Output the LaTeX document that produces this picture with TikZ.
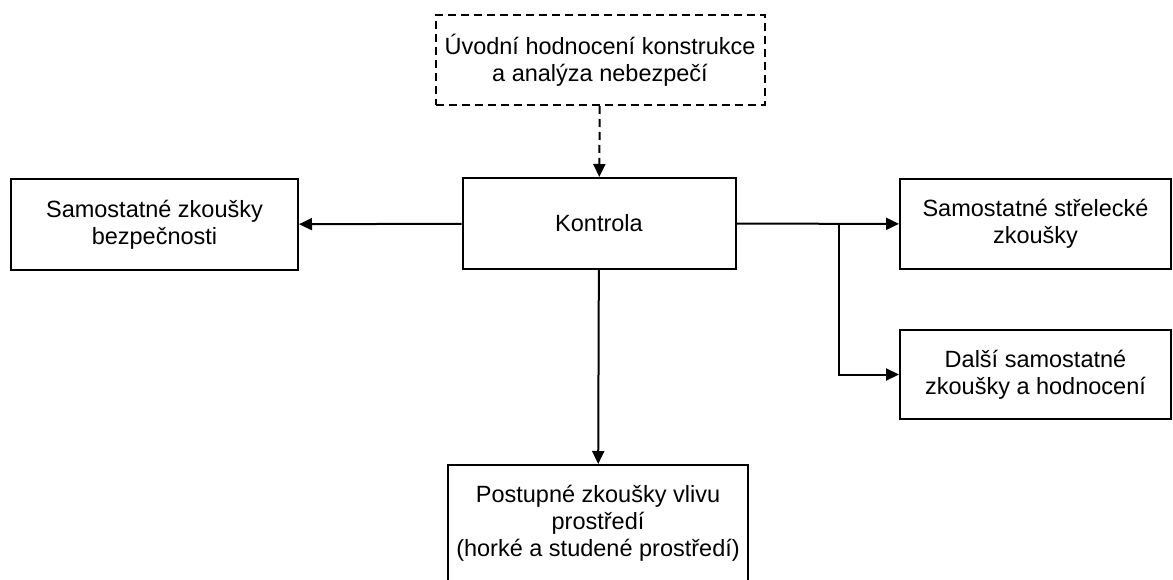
\documentclass[tikz,border=0pt]{standalone}
\usepackage{fontspec}
\setmainfont{Liberation Sans}
\usetikzlibrary{arrows.meta}

\begin{document}
\begin{tikzpicture}[x=1pt, y=-1pt, line width=2pt,
    box/.style={draw, align=center, inner sep=0pt, minimum height=90pt,
      font=\fontsize{23.5}{27}\selectfont},
    arr/.style={-{Triangle[length=13pt, width=12pt]}}]
  \useasboundingbox (0,0) rectangle (1173,580);
  % Boxes
  \node[box, dashed, dash pattern=on 8pt off 5pt, minimum width=329pt] (intro) at (600,60)
    {Úvodní hodnocení konstrukce\\a analýza nebezpečí};
  \node[box, minimum width=273pt, minimum height=91pt] (check) at (599,223.5) {Kontrola};
  \node[box, minimum width=287pt, minimum height=91pt] (safety) at (154.5,224.5)
    {Samostatné zkoušky\\bezpečnosti};
  \node[box, minimum width=271pt] (shoot) at (1035.5,224) {Samostatné střelecké\\zkoušky};
  \node[box, minimum width=271pt, minimum height=89pt] (other) at (1035.5,374.5)
    {Další samostatné\\zkoušky a hodnocení};
  \node[box, minimum width=300pt, minimum height=116pt] (env) at (598,523)
    {Postupné zkoušky vlivu\\prostředí\\(horké a studené prostředí)};
  % Connectors
  \draw[arr, dashed, dash pattern=on 8pt off 5pt] (intro) -- (check);
  \draw[arr] (check) -- (safety);
  \draw[arr] (check) -- (shoot);
  \coordinate (fork) at (839,224);
  \draw[arr] (fork) |- (other);
  \draw[arr] (check) -- (env);
\end{tikzpicture}
\end{document}
